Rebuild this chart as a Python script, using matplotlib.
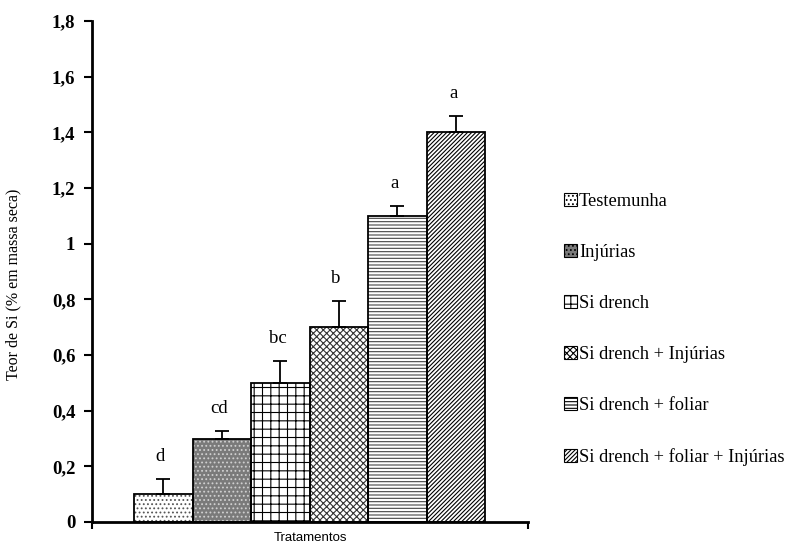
import matplotlib
matplotlib.use("Agg")
import matplotlib.pyplot as plt
from matplotlib.ticker import FuncFormatter

# Teor de Si por tratamento
tratamentos = ["Testemunha", "Injúrias", "Si drench", "Si drench + Injúrias",
               "Si drench + foliar", "Si drench + foliar + Injúrias"]
teor_si = [0.10, 0.30, 0.50, 0.70, 1.10, 1.40]
erro = [0.055, 0.027, 0.08, 0.095, 0.035, 0.06]
letras = ["d", "cd", "bc", "b", "a", "a"]
y_ticks = [0, 0.2, 0.4, 0.6, 0.8, 1.0, 1.2, 1.4, 1.6, 1.8]

hatches = ["....", "....", "++", "xxxxx", "-----", "////////"]
faces = ["white", "#7a7a7a", "white", "white", "white", "white"]
hatch_cols = ["#555555", "#d0d0d0", "black", "#333333", "#444444", "black"]

plt.rcParams["font.family"] = ["Liberation Serif", "DejaVu Serif"]
plt.rcParams["hatch.linewidth"] = 0.8

fig = plt.figure(figsize=(7.87, 5.48), dpi=100)
ax = fig.add_axes([92 / 787, 26 / 548, 436 / 787, 501 / 548])

pos = [1.22 + i for i in range(len(teor_si))]
handles = []
for i, v in enumerate(teor_si):
    # hatch drawn with its own colour, outline drawn on top in black
    ax.bar(pos[i], v, width=1.0, color=faces[i], hatch=hatches[i],
           edgecolor=hatch_cols[i], linewidth=0, zorder=2)
    ax.bar(pos[i], v, width=1.0, fill=False, edgecolor="black",
           linewidth=1.3, zorder=3)
    ax.errorbar(pos[i], v, yerr=[[0], [erro[i]]], fmt="none", ecolor="black",
                elinewidth=1.3, capsize=5, capthick=1.3, zorder=4)
    ax.text(pos[i] - 0.05, v + erro[i] + 0.05, letras[i], ha="center",
            va="bottom", fontsize=13.5)
    h = plt.Rectangle((0, 0), 1, 1, facecolor=faces[i], hatch=hatches[i],
                      edgecolor="black", linewidth=0.8)
    handles.append(h)

ax.set_xlim(0, 7.45)
ax.set_ylim(0, 1.8)
ax.set_yticks(y_ticks)
ax.yaxis.set_major_formatter(FuncFormatter(
    lambda x, p: "0" if x == 0 else ("1" if abs(x - 1) < 1e-9 else f"{x:.1f}".replace(".", ","))))
ax.set_xticks([0, 7.45])
ax.set_xticklabels([])
for lab in ax.get_yticklabels():
    lab.set_fontweight("bold")
    lab.set_fontsize(13.5)
ax.tick_params(axis="y", direction="out", length=6, width=1.5, pad=6)
ax.tick_params(axis="x", direction="out", length=5, width=1.5)
for s in ["top", "right"]:
    ax.spines[s].set_visible(False)
for s in ["left", "bottom"]:
    ax.spines[s].set_linewidth(2)

fig.text(310 / 787, 1 - 538 / 548, "Tratamentos", ha="center", va="center",
         fontsize=9.5, family=["Liberation Sans", "DejaVu Sans"])
fig.text(13 / 787, 1 - 284 / 548, "Teor de Si (% em massa seca)", ha="center",
         va="center", rotation=90, fontsize=11.5)

fig.legend(handles, tratamentos, loc="upper left",
           bbox_to_anchor=(555 / 787, 1 - 184 / 548), frameon=False,
           fontsize=13.2, handlelength=0.7, handleheight=0.7,
           handletextpad=0.1, labelspacing=1.85, borderpad=0)

fig.savefig("out.png", dpi=100)
